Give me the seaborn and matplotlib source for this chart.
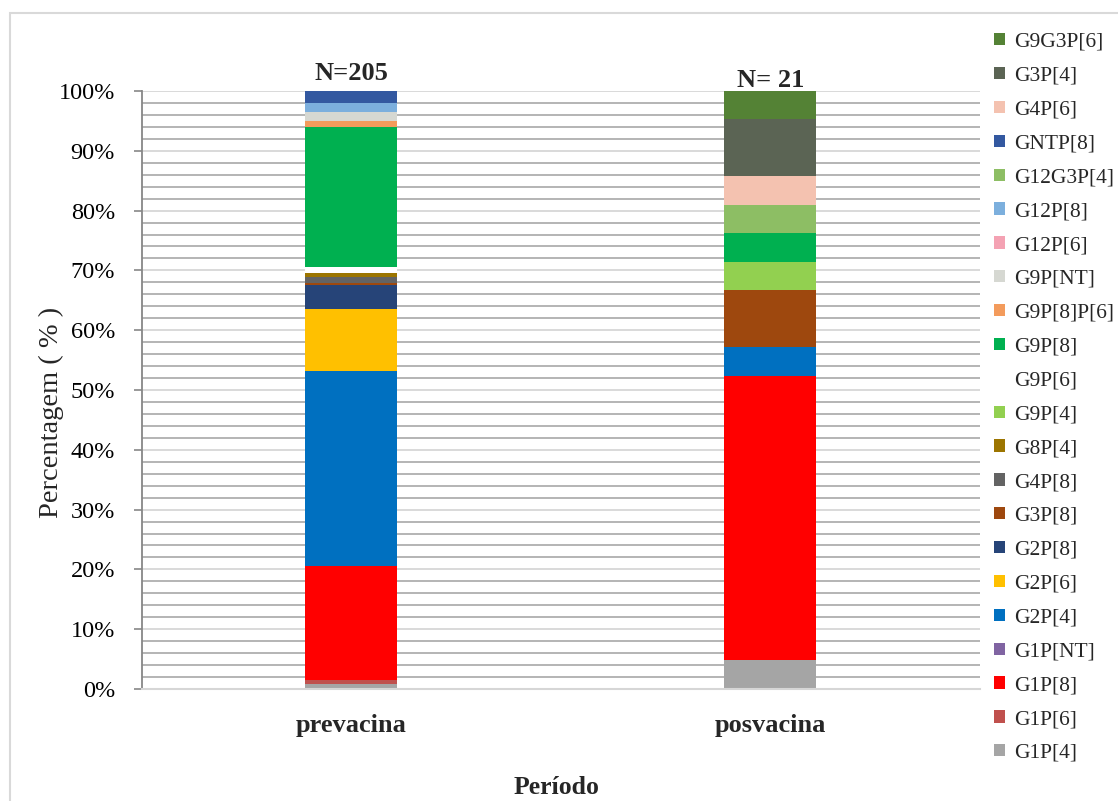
import matplotlib
matplotlib.use("Agg")
import matplotlib.pyplot as plt
from matplotlib.patches import Patch, Rectangle
from matplotlib.ticker import MultipleLocator, FuncFormatter
import pandas as pd
import seaborn as sns

# Genotypes, listed from the top of the stack down to the bottom
genotypes = [
    "G9G3P[6]", "G3P[4]", "G4P[6]", "GNTP[8]", "G12G3P[4]", "G12P[8]",
    "G12P[6]", "G9P[NT]", "G9P[8]P[6]", "G9P[8]", "G9P[6]", "G9P[4]",
    "G8P[4]", "G4P[8]", "G3P[8]", "G2P[8]", "G2P[6]", "G2P[4]",
    "G1P[NT]", "G1P[8]", "G1P[6]", "G1P[4]",
]
colors = [
    "#548235", "#5b6454", "#f4c2b0", "#3358a0", "#8dbe64", "#7cafdd",
    "#f4a2b3", "#d6d8d2", "#f39b5c", "#00b050", "#ffffff", "#92d050",
    "#9c7500", "#636363", "#9e480e", "#264478", "#ffc000", "#0070c0",
    "#8064a2", "#ff0000", "#c0504d", "#a5a5a5",
]

periods = ["prevacina", "posvacina"]
sample_sizes = ["N=205", "N= 21"]

# Percentage of each genotype per period (same order as `genotypes`)
prevacina_pct = [
    0.0, 0.0, 0.0, 2.0, 0.0, 1.45,
    0.0, 1.6, 1.0, 23.3, 1.09, 0.0,
    0.72, 1.0, 0.3, 4.0, 10.37, 32.6,
    0.0, 19.06, 0.62, 0.89,
]
posvacina_pct = [
    4.76, 9.52, 4.76, 0.0, 4.76, 0.0,
    0.0, 0.0, 0.0, 4.76, 0.0, 4.76,
    0.0, 0.0, 9.52, 0.0, 0.0, 4.76,
    0.0, 47.62, 0.0, 4.78,
]

df = pd.DataFrame({
    "Período": [periods[0]] * len(genotypes) + [periods[1]] * len(genotypes),
    "Genótipo": genotypes * 2,
    "pct": prevacina_pct + posvacina_pct,
})

sns.set_theme(style="white")
plt.rcParams["font.family"] = ["Liberation Serif", "DejaVu Serif"]

W, H = 1118, 801
fig = plt.figure(figsize=(W / 100, H / 100), dpi=100)
ax = fig.add_axes([141.5 / W, 1 - 689 / H, (980 - 141.5) / W, (689 - 91) / H])

sns.histplot(
    data=df, x="Período", hue="Genótipo", weights="pct",
    hue_order=genotypes, palette=dict(zip(genotypes, colors)),
    multiple="stack", discrete=True, shrink=0.22,
    alpha=1, linewidth=0, legend=False, ax=ax,
)

ax.set_xlim(-0.5, 1.5)
ax.set_ylim(0, 100)
ax.set_axisbelow(True)

# y axis: labelled ticks every 10 %, grid lines every 2 %
ax.yaxis.set_major_locator(MultipleLocator(10))
ax.yaxis.set_minor_locator(MultipleLocator(2))
ax.yaxis.set_major_formatter(FuncFormatter(lambda v, _: f"{v:.0f}%"))
ax.grid(axis="y", which="minor", color="#b4b4b4", linewidth=1.4)
ax.grid(axis="y", which="major", color="#d9d9d9", linewidth=1.4)
ax.grid(axis="x", visible=False)
ax.tick_params(axis="y", which="major", left=True, length=6, width=1.2,
               color="#878787", pad=13, labelsize=17.5, labelcolor="black")
ax.tick_params(axis="y", which="minor", left=False, length=0)
ax.tick_params(axis="x", bottom=False, length=0, pad=18, labelsize=19)
for lbl in ax.get_xticklabels():
    lbl.set_fontweight("bold")

for side in ("top", "right"):
    ax.spines[side].set_visible(False)
ax.spines["left"].set_color("#878787")
ax.spines["left"].set_linewidth(1.3)
ax.spines["bottom"].set_color("#d6d6d6")
ax.spines["bottom"].set_linewidth(1.5)

ax.set_ylabel("")
ax.set_xlabel("Período", fontsize=18.5, fontweight="bold")
ax.xaxis.set_label_coords((556 - 141.5) / (980 - 141.5), -0.146)
fig.text(51 / W, 1 - 412 / H, "Percentagem ( % )", rotation=90,
         ha="center", va="center", fontsize=20.5)

# Sample size above each bar
n_heights = [101.8, 100.7]
for i, (lab, yv) in enumerate(zip(sample_sizes, n_heights)):
    ax.text(i, yv, lab, ha="center", va="baseline", fontsize=19,
            fontweight="bold", clip_on=False)

handles = [Patch(facecolor=c, edgecolor="none", label=g)
           for g, c in zip(genotypes, colors)]
fig.legend(handles=handles, loc="upper left",
           bbox_to_anchor=(994 / W, 1 - 33 / H), frameon=False,
           fontsize=15.5, handlelength=0.5, handleheight=0.5,
           handletextpad=0.45, labelspacing=0.69, borderpad=0,
           borderaxespad=0)

# Light frame around the chart area
fig.patches.append(Rectangle((9.5 / W, -0.05), 1.2, 1.05 - 13 / H,
                             transform=fig.transFigure, fill=False,
                             edgecolor="#d9d9d9", linewidth=1.5))

fig.savefig("out.png", dpi=100)
